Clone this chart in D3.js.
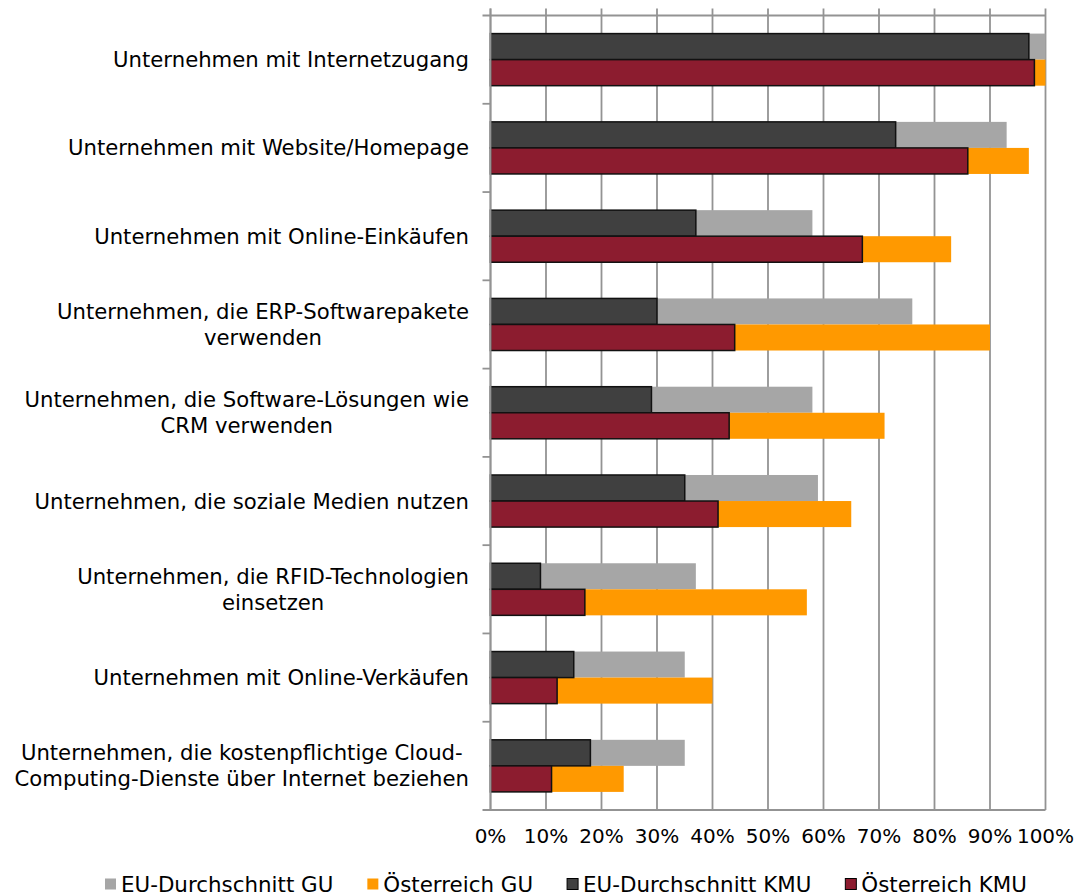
<!DOCTYPE html>
<html>
<head>
<meta charset="utf-8">
<script src="https://cdn.jsdelivr.net/npm/d3@7"></script>
<style>
  body { margin: 0; background: #fff; }
  text { font-family: "DejaVu Sans", Verdana, sans-serif; fill: #000; }
</style>
</head>
<body>
<svg id="chart" width="1076" height="895"></svg>
<script>
// Categories, top to bottom (lines split as in the original labels)
const categories = [
  ['Unternehmen mit Internetzugang'],
  ['Unternehmen mit Website/Homepage'],
  ['Unternehmen mit Online-Einkäufen'],
  ['Unternehmen, die ERP-Softwarepakete', 'verwenden'],
  ['Unternehmen, die Software-Lösungen wie', 'CRM verwenden'],
  ['Unternehmen, die soziale Medien nutzen'],
  ['Unternehmen, die RFID-Technologien', 'einsetzen'],
  ['Unternehmen mit Online-Verkäufen'],
  ['Unternehmen, die kostenpflichtige Cloud-', 'Computing-Dienste über Internet beziehen']
]

// Series values in percent
const euGU  = [100, 93, 58, 76, 58, 59, 37, 35, 35]
const atGU  = [100, 97, 83, 90, 71, 65, 57, 40, 24]
const euKMU = [97, 73, 37, 30, 29, 35, 9, 15, 18]
const atKMU = [98, 86, 67, 44, 43, 41, 17, 12, 11]

const xTicks = [0, 10, 20, 30, 40, 50, 60, 70, 80, 90, 100]

const legendItems = [
  { name: 'EU-Durchschnitt GU',  color: '#a6a6a6', stroke: null },
  { name: 'Österreich GU',       color: '#ff9900', stroke: null },
  { name: 'EU-Durchschnitt KMU', color: '#404040', stroke: '#000' },
  { name: 'Österreich KMU',      color: '#8c1c2f', stroke: '#000' }
]

// MARK: Layout.

const plotLeft   = 490.5
const plotRight  = 1045.5
const plotTop    = 15.5
const plotBottom = 810
const gridColor  = '#939393'

const svg = d3.select('#chart')

const x = d3.scaleLinear().domain([0, 100]).range([plotLeft, plotRight])
const y = d3.scaleBand()
  .domain(d3.range(categories.length))
  .range([plotTop, plotBottom])
  .paddingInner(0.41)
  .paddingOuter(0.205)
const row = d3.scaleBand().domain(['eu', 'at']).range([0, y.bandwidth()])

const step = y.step()

// Gridlines
svg.append('g').selectAll('line')
  .data(xTicks).enter()
  .append('line')
  .attr('x1', (d) => x(d)).attr('x2', (d) => x(d))
  .attr('y1', plotTop - 7).attr('y2', plotBottom)
  .attr('stroke', gridColor)
  .attr('stroke-width', 1.8)

// Horizontal frame lines (top and bottom)
svg.append('g').selectAll('line')
  .data([plotTop, plotBottom]).enter()
  .append('line')
  .attr('x1', plotLeft - 8).attr('x2', plotRight)
  .attr('y1', (d) => d).attr('y2', (d) => d)
  .attr('stroke', gridColor)
  .attr('stroke-width', 1.8)

// Category ticks on the left axis
svg.append('g').selectAll('line')
  .data(d3.range(1, categories.length)).enter()
  .append('line')
  .attr('x1', plotLeft - 8).attr('x2', plotLeft)
  .attr('y1', (d) => plotTop + d * step).attr('y2', (d) => plotTop + d * step)
  .attr('stroke', gridColor)
  .attr('stroke-width', 1.8)

// MARK: Bars.

function drawBars(values, rowKey, color, stroke) {
  svg.append('g').selectAll('rect')
    .data(values).enter()
    .append('rect')
    .attr('x', x(0))
    .attr('y', (d, i) => y(i) + row(rowKey))
    .attr('width', (d) => x(d) - x(0))
    .attr('height', row.bandwidth())
    .attr('fill', color)
    .attr('stroke', stroke || 'none')
    .attr('stroke-width', stroke ? 1.5 : 0)
}

drawBars(euGU, 'eu', '#a6a6a6', null)
drawBars(atGU, 'at', '#ff9900', null)
drawBars(euKMU, 'eu', '#404040', '#111')
drawBars(atKMU, 'at', '#8c1c2f', '#111')

// Left axis line on top of bars
svg.append('line')
  .attr('x1', plotLeft).attr('x2', plotLeft)
  .attr('y1', plotTop - 7).attr('y2', plotBottom)
  .attr('stroke', gridColor)
  .attr('stroke-width', 1.8)

// MARK: Category labels (block right-aligned, lines centred within block).

const labelRight = 469
const lineHeight = 26
const labels = svg.append('g')

categories.forEach((lines, i) => {
  const cy = plotTop + (i + 0.5) * step
  const g = labels.append('g')
  const texts = lines.map((line, j) => g.append('text')
    .attr('font-size', 21.2)
    .attr('text-anchor', 'middle')
    .attr('dominant-baseline', 'central')
    .attr('y', cy + (j - (lines.length - 1) / 2) * lineHeight)
    .text(line))
  const maxW = d3.max(texts, (t) => t.node().getComputedTextLength())
  texts.forEach((t) => t.attr('x', labelRight - maxW / 2))
})

// MARK: X tick labels.

svg.append('g').selectAll('text')
  .data(xTicks).enter()
  .append('text')
  .attr('x', (d) => x(d))
  .attr('y', 836)
  .attr('font-size', 20)
  .attr('text-anchor', 'middle')
  .attr('dominant-baseline', 'central')
  .text((d) => d + '%')

// MARK: Legend.

const legend = svg.append('g')
let lx = 105
legendItems.forEach((item) => {
  legend.append('rect')
    .attr('x', lx).attr('y', 878.5)
    .attr('width', 11).attr('height', 11)
    .attr('fill', item.color)
    .attr('stroke', item.stroke || 'none')
    .attr('stroke-width', item.stroke ? 1 : 0)
  const t = legend.append('text')
    .attr('x', lx + 16)
    .attr('y', 884)
    .attr('font-size', 21.4)
    .attr('dominant-baseline', 'central')
    .text(item.name)
  lx += 16 + t.node().getComputedTextLength() + 34
})
</script>
</body>
</html>
